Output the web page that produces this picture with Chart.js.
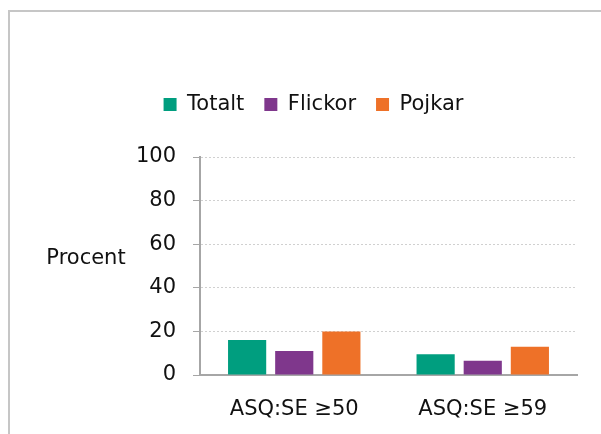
<!DOCTYPE html>
<html>
<head>
<meta charset="utf-8">
<script src="https://cdn.jsdelivr.net/npm/chart.js@4.4.0/dist/chart.umd.min.js"></script>
<style>
  html, body { margin: 0; background: #fff; overflow: hidden; }
  canvas { display: block; }
</style>
</head>
<body>
<canvas id="chart" width="601" height="434"></canvas>
<script>
// Data -----------------------------------------
const kategorier = ['ASQ:SE \u226550', 'ASQ:SE \u226559'];
const totalt = [16, 9.5];
const flickor = [11, 6.5];
const pojkar = [20, 13];
const yMax = 100;
const yStep = 20;

const textFarg = '#111';
const font = { family: '"DejaVu Sans", sans-serif', size: 21 };

// grå ram uppe och till vänster (fortsätter utanför bilden)
const ram = {
    id: 'ram',
    beforeDraw(chart) {
        const c = chart.ctx;
        c.save();
        c.strokeStyle = '#c6c6c6';
        c.lineWidth = 2;
        c.beginPath();
        c.moveTo(9, chart.height);
        c.lineTo(9, 11);
        c.lineTo(chart.width, 11);
        c.stroke();
        c.restore();
    }
};

// "Procent" står horisontellt till vänster om y-axeln
const procentEtikett = {
    id: 'procentEtikett',
    afterDraw(chart) {
        const { ctx, chartArea, scales } = chart;
        ctx.save();
        ctx.font = '21px "DejaVu Sans", sans-serif';
        ctx.fillStyle = textFarg;
        ctx.textAlign = 'center';
        ctx.textBaseline = 'middle';
        ctx.fillText('Procent', chartArea.left - 114, scales.y.getPixelForValue(yMax / 2) - 7);
        ctx.restore();
    }
};

// extra luft under legenden
const legendLuft = {
    id: 'legendLuft',
    beforeInit(chart) {
        const fit = chart.legend.fit;
        chart.legend.fit = function () {
            fit.call(this);
            this.height += 32;
        };
    }
};

const ctx = document.getElementById('chart');

new Chart(ctx, {
    type: 'bar',
    data: {
        labels: kategorier,
        datasets: [
            { label: 'Totalt', data: totalt, backgroundColor: '#009e7f' },
            { label: 'Flickor', data: flickor, backgroundColor: '#7f378c' },
            { label: 'Pojkar', data: pojkar, backgroundColor: '#ee7128' }
        ]
    },
    options: {
        responsive: false,
        animation: false,
        layout: { padding: { top: 74, left: 50, right: 24, bottom: 0 } },
        datasets: { bar: { categoryPercentage: 0.75, barPercentage: 0.81 } },
        plugins: {
            title: { display: false },
            tooltip: { enabled: false },
            legend: {
                position: 'top',
                labels: {
                    boxWidth: 13,
                    boxHeight: 13,
                    padding: 20,
                    color: textFarg,
                    font: font
                }
            }
        },
        scales: {
            x: {
                grid: { display: false, drawTicks: false },
                border: { color: '#a6a6a6', width: 2 },
                ticks: { color: textFarg, font: font, padding: 22 },
                afterFit(scale) { scale.height = 59; }
            },
            y: {
                min: 0,
                max: yMax,
                ticks: { stepSize: yStep, color: textFarg, font: font, padding: 17 },
                grid: {
                    color: (c) => (c.tick && c.tick.value === 0 ? 'rgba(0,0,0,0)' : '#d0d0d0'),
                    tickColor: '#a6a6a6',
                    tickLength: 7,
                    tickBorderDash: []
                },
                border: { color: '#a6a6a6', width: 2, dash: [2, 2] },
                afterFit(scale) { scale.width = 150; }
            }
        }
    },
    plugins: [ram, legendLuft, procentEtikett]
});
</script>
</body>
</html>
